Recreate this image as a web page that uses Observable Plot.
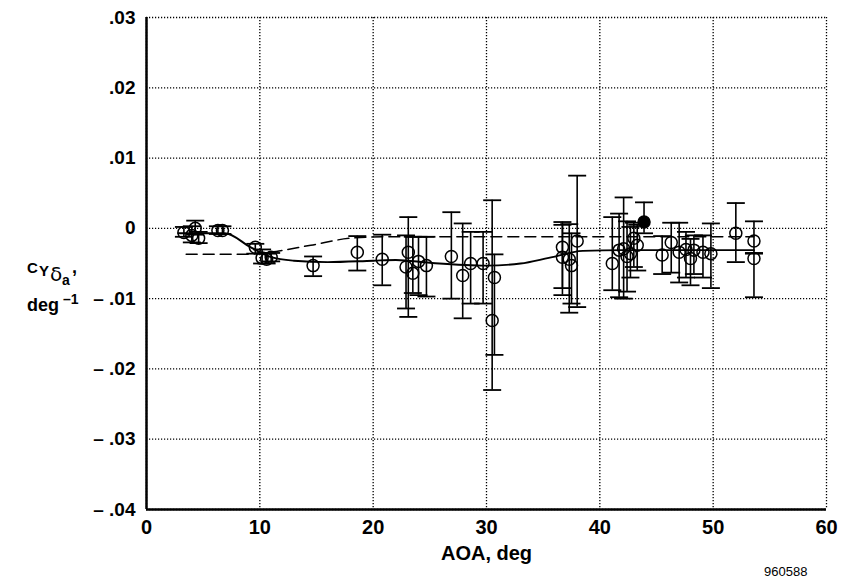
<!DOCTYPE html>
<html>
<head>
<meta charset="utf-8">
<script src="https://cdn.jsdelivr.net/npm/d3@7"></script>
<script src="https://cdn.jsdelivr.net/npm/@observablehq/plot@0.6"></script>
<style>
  html, body { margin: 0; padding: 0; background: #fff; }
  #wrap { position: relative; width: 857px; height: 581px; font-family: "Liberation Sans", Arial, sans-serif; color: #000; }
  #ylab { position: absolute; left: 27px; top: 256px; width: 80px; height: 60px; font-weight: bold; line-height: 1; white-space: nowrap; }
  #ylab span { position: absolute; }
  #code { position: absolute; left: 764px; top: 564px; font-size: 13px; }
</style>
</head>
<body>
<div id="wrap">
  <div id="chart"></div>
  <div id="ylab">
    <span style="left:0;top:4px;font-size:15px">C</span>
    <span style="left:12px;top:7px;font-size:15px">Y</span>
    <span style="left:23px;top:8px;font-size:20px;font-weight:normal;font-family:'DejaVu Sans'">δ</span>
    <span style="left:35px;top:17px;font-size:14px">a</span>
    <span style="left:45px;top:2px;font-size:18px">,</span>
    <span style="left:0;top:40px;font-size:18px">deg</span>
    <span style="left:36px;top:36px;font-size:14px">–1</span>
  </div>
  <div id="code">960588</div>
</div>
<script>
// Flight data points (AOA, deg) and C_Y_delta_a (per deg), with error bar ends
const aoa     = [3.3, 4.0, 4.3, 4.6, 6.3, 6.7, 9.6, 10.2, 10.6, 11.0, 14.7, 18.6, 20.8, 22.9, 23.1, 23.5, 24.0, 24.7, 26.9, 27.9, 28.6, 29.7, 30.7, 30.5, 36.7, 36.7, 37.3, 37.5, 38.0, 41.1, 41.7, 42.1, 42.4, 42.7, 43.0, 43.3, 45.5, 46.3, 47.0, 47.6, 48.0, 48.3, 49.1, 49.8, 52.0, 53.6, 53.6];
const cy      = [-0.0006, -0.0010, 0.0000, -0.0014, -0.0003, -0.0003, -0.0027, -0.0042, -0.0044, -0.0041, -0.0053, -0.0034, -0.0044, -0.0055, -0.0034, -0.0064, -0.0047, -0.0053, -0.0040, -0.0067, -0.0050, -0.0050, -0.0070, -0.0131, -0.0027, -0.0041, -0.0044, -0.0053, -0.0018, -0.0050, -0.0031, -0.0029, -0.0040, -0.0036, -0.0014, -0.0024, -0.0038, -0.0020, -0.0034, -0.0030, -0.0043, -0.0031, -0.0034, -0.0036, -0.0007, -0.0018, -0.0043];
const errLow  = [-0.0012, -0.0020, -0.0009, -0.0021, -0.0008, -0.0008, -0.0036, -0.0050, -0.0050, -0.0047, -0.0068, -0.0060, -0.0081, -0.0114, -0.0126, -0.0092, -0.0095, -0.0097, -0.0100, -0.0128, -0.0107, -0.0107, -0.0180, -0.0230, -0.0085, -0.0095, -0.0120, -0.0107, -0.0112, -0.0088, -0.0098, -0.0100, -0.0090, -0.0070, -0.0055, -0.0060, -0.0065, -0.0063, -0.0077, -0.0070, -0.0081, -0.0065, -0.0070, -0.0085, -0.0048, -0.0036, -0.0098];
const errHigh = [0.0002, 0.0003, 0.0011, -0.0005, 0.0003, 0.0003, -0.0022, -0.0030, -0.0036, -0.0035, -0.0040, -0.0011, -0.0009, -0.0010, 0.0016, -0.0012, -0.0012, -0.0012, 0.0023, 0.0007, -0.0005, -0.0005, -0.0037, 0.0040, 0.0009, 0.0005, 0.0006, -0.0007, 0.0075, 0.0016, 0.0021, 0.0044, 0.0010, 0.0002, 0.0008, 0.0005, -0.0011, 0.0008, 0.0008, -0.0005, -0.0015, -0.0010, -0.0010, 0.0007, 0.0036, 0.0010, -0.0035];

// Filled (solid) symbol
const filledAoa  = [43.9];
const filledCy   = [0.0009];
const filledLow  = [-0.0007];
const filledHigh = [0.0037];

// Faired curves
const solidAoa = [2.8, 6.9, 9.2, 11.0, 13.0, 16.0, 20.0, 22.0, 25.0, 30.0, 33.0, 35.5, 38.5, 42.0, 53.6];
const solidCy  = [-0.0007, -0.0007, -0.0027, -0.0041, -0.0046, -0.0048, -0.0046, -0.0045, -0.0049, -0.0053, -0.0050, -0.0042, -0.0032, -0.0031, -0.0031];
const dashAoa  = [3.5, 8.7, 10.8, 14.5, 18.0, 21.0, 53.6];
const dashCy   = [-0.0037, -0.0037, -0.0034, -0.0024, -0.0014, -0.0012, -0.0012];

// Axis ticks
const xTicks = [0, 10, 20, 30, 40, 50, 60];
const yTicks = [0.03, 0.02, 0.01, 0, -0.01, -0.02, -0.03, -0.04];

const pts = aoa.map((a, i) => ({x: a, y: cy[i], lo: errLow[i], hi: errHigh[i]}));
const fpts = filledAoa.map((a, i) => ({x: a, y: filledCy[i], lo: filledLow[i], hi: filledHigh[i]}));
const allPts = pts.concat(fpts);
const solid = solidAoa.map((a, i) => ({x: a, y: solidCy[i]}));
const dash = dashAoa.map((a, i) => ({x: a, y: dashCy[i]}));

const cap = {draw(context, size) { const r = Math.sqrt(size / Math.PI); context.moveTo(-r, 0); context.lineTo(r, 0); }};

const yFmt = d => {
  if (Math.abs(d) < 1e-12) return "0";
  const s = d3.format(".2f")(Math.abs(d)).replace(/^0/, "");
  return d < 0 ? "– " + s : s;
};

const chart = Plot.plot({
  width: 857,
  height: 581,
  marginLeft: 146,
  marginRight: 31,
  marginTop: 17,
  marginBottom: 72,
  style: {fontFamily: "'Liberation Sans', Arial, sans-serif", fontWeight: "bold", fontSize: "19px", color: "#000", background: "#fff", overflow: "visible"},
  x: {domain: [0, 60]},
  y: {domain: [-0.04, 0.03]},
  marks: [
    Plot.gridX(xTicks, {stroke: "#000", strokeOpacity: 1, strokeWidth: 1.3, strokeDasharray: "1.2,1.8"}),
    Plot.gridY(yTicks, {stroke: "#000", strokeOpacity: 1, strokeWidth: 1.3, strokeDasharray: "1.2,1.8"}),
    Plot.axisX(xTicks, {tickSize: 0, tickPadding: 10, label: "AOA, deg", labelAnchor: "center", labelArrow: "none", labelOffset: 50, fontSize: 20}),
    Plot.axisY(yTicks, {tickSize: 0, tickPadding: 11, tickFormat: yFmt, label: null, fontSize: 19}),
    Plot.line(dash, {x: "x", y: "y", stroke: "#000", strokeWidth: 1.5, strokeDasharray: "11,6", curve: "monotone-x"}),
    Plot.line(solid, {x: "x", y: "y", stroke: "#000", strokeWidth: 1.9, curve: "monotone-x"}),
    Plot.ruleX(allPts, {x: "x", y1: "lo", y2: "hi", stroke: "#000", strokeWidth: 1.6}),
    Plot.dot(allPts, {x: "x", y: "hi", symbol: cap, r: 9, stroke: "#000", strokeWidth: 1.8}),
    Plot.dot(allPts, {x: "x", y: "lo", symbol: cap, r: 9, stroke: "#000", strokeWidth: 1.8}),
    Plot.dot(pts, {x: "x", y: "y", r: 6, stroke: "#000", fill: "none", strokeWidth: 1.5}),
    Plot.dot(fpts, {x: "x", y: "y", r: 6, stroke: "#000", fill: "#000", strokeWidth: 1.5}),
    Plot.ruleX([0], {stroke: "#000", strokeWidth: 2.5}),
    Plot.ruleY([-0.04], {stroke: "#000", strokeWidth: 2.5})
  ]
});
document.getElementById("chart").appendChild(chart);
</script>
</body>
</html>
